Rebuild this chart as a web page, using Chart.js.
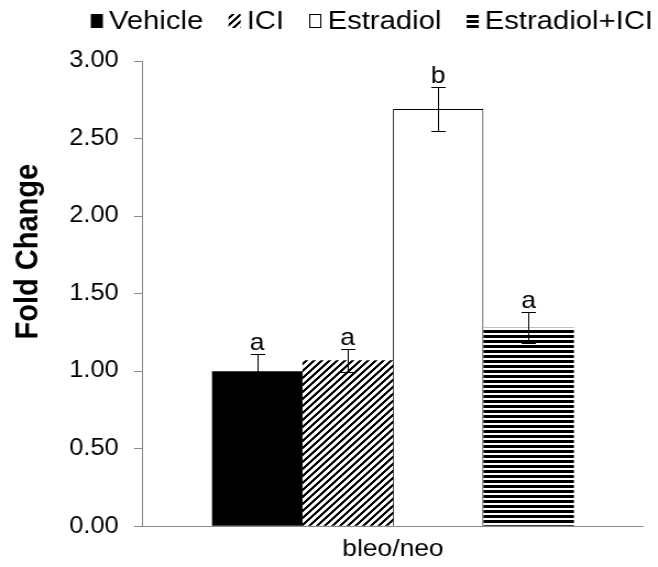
<!DOCTYPE html>
<html>
<head>
<meta charset="utf-8">
<script src="https://cdn.jsdelivr.net/npm/chart.js@4"></script>
<style>
  html, body { margin: 0; padding: 0; background: #fff; overflow: hidden; }
</style>
</head>
<body>
<canvas id="chart" width="598" height="567" style="display:block;width:658px;height:567px"></canvas>
<script>
// Fold change of bleo/neo expression per treatment group (mean ± SE)
const categories = ['bleo/neo'];
const seriesNames = ['Vehicle', 'ICI', 'Estradiol', 'Estradiol+ICI'];
const foldChange = [1.00, 1.07, 2.69, 1.28];
const foldChangeSE = [0.11, 0.075, 0.14, 0.10];
const groupLetters = ['a', 'a', 'b', 'a'];
const yTickValues = [0, 0.5, 1, 1.5, 2, 2.5, 3];

const FONT = "'Liberation Sans', Arial, sans-serif";
const AXIS_GREY = '#8a8a8a';

const canvas = document.getElementById('chart');
const ctx2d = canvas.getContext('2d');

// Build a repeating black/white pixel pattern
function tilePattern(w, h, isInk) {
  const c = document.createElement('canvas');
  c.width = w; c.height = h;
  const g = c.getContext('2d');
  const img = g.createImageData(w, h);
  for (let y = 0; y < h; y++) {
    for (let x = 0; x < w; x++) {
      const i = (y * w + x) * 4;
      const v = isInk(x, y) ? 0 : 255;
      img.data[i] = img.data[i + 1] = img.data[i + 2] = v;
      img.data[i + 3] = 255;
    }
  }
  g.putImageData(img, 0, 0);
  return ctx2d.createPattern(c, 'repeat');
}

const diagonalHatch = tilePattern(7, 7, (x, y) => (x + y) % 7 < 3);
const horizontalHatch = tilePattern(5, 5, (x, y) => y % 5 < 3);

const fills = ['#000000', diagonalHatch, '#ffffff', horizontalHatch];
const outlines = [0, 0, 1, 0];

// Error bars and significance letters above each bar
const errorBars = {
  id: 'errorBars',
  afterDatasetsDraw(chart) {
    const ctx = chart.ctx;
    const y = chart.scales.y;
    ctx.save();
    ctx.strokeStyle = '#000';
    ctx.lineWidth = 1;
    chart.data.datasets.forEach((ds, i) => {
      const bar = chart.getDatasetMeta(i).data[0];
      const v = ds.data[0];
      const e = foldChangeSE[i];
      const x = Math.round(bar.x) + 0.5;
      const yHi = Math.round(y.getPixelForValue(v + e)) + 0.5;
      const yLo = Math.round(y.getPixelForValue(v - e)) + 0.5;
      const cap = 6.5;
      ctx.beginPath();
      ctx.moveTo(x, yHi); ctx.lineTo(x, yLo);
      ctx.moveTo(x - cap, yHi); ctx.lineTo(x + cap, yHi);
      ctx.moveTo(x - cap, yLo); ctx.lineTo(x + cap, yLo);
      ctx.stroke();
      ctx.fillStyle = '#000';
      ctx.font = `24px ${FONT}`;
      ctx.textAlign = 'center';
      ctx.textBaseline = 'alphabetic';
      ctx.fillText(groupLetters[i], bar.x, yHi - 5);
    });
    ctx.restore();
  }
};

// Legend row with pattern swatches, spread across the top of the canvas
const swatchLegend = {
  id: 'swatchLegend',
  afterDraw(chart) {
    const ctx = chart.ctx;
    const left = 82.5, right = chart.width - 4.5;
    const boxW = 11, boxH = 14, boxTop = 14, baseline = 29, gapText = 5.5, gapItem = 23;
    const items = chart.data.datasets;
    ctx.save();
    ctx.font = `26px ${FONT}`;
    const textAt26 = items.reduce((s, ds) => s + ctx.measureText(ds.label).width, 0);
    const fixed = items.length * (boxW + gapText) + (items.length - 1) * gapItem;
    const size = 26 * (right - left - fixed) / textAt26;
    ctx.font = `${size.toFixed(2)}px ${FONT}`;
    ctx.textBaseline = 'alphabetic';
    ctx.textAlign = 'left';
    let x = left;
    items.forEach(ds => {
      ctx.fillStyle = ds.backgroundColor;
      ctx.fillRect(x, boxTop, boxW, boxH);
      if (ds.borderWidth) {
        ctx.strokeStyle = '#000';
        ctx.lineWidth = 1;
        ctx.strokeRect(Math.round(x) + 0.5, boxTop + 0.5, boxW - 1, boxH - 1);
      }
      x += boxW + gapText;
      ctx.fillStyle = '#000';
      ctx.fillText(ds.label, x, baseline);
      x += ctx.measureText(ds.label).width + gapItem;
    });
    ctx.restore();
  }
};

// Rotated y-axis title
const yTitle = {
  id: 'yTitle',
  afterDraw(chart) {
    const ctx = chart.ctx;
    const area = chart.chartArea;
    ctx.save();
    ctx.translate(26, area.top + (area.bottom - area.top) * 0.41);
    ctx.rotate(-Math.PI / 2);
    ctx.font = `bold 29px ${FONT}`;
    ctx.fillStyle = '#000';
    ctx.textAlign = 'center';
    ctx.textBaseline = 'middle';
    ctx.fillText('Fold Change', 0, 0);
    ctx.restore();
  }
};

new Chart(canvas, {
  type: 'bar',
  data: {
    labels: categories,
    datasets: seriesNames.map((name, i) => ({
      label: name,
      data: [foldChange[i]],
      backgroundColor: fills[i],
      borderColor: '#000',
      borderWidth: outlines[i],
      borderSkipped: 'bottom'
    }))
  },
  options: {
    responsive: false,
    animation: false,
    devicePixelRatio: 1,
    layout: { padding: { left: 49, right: 13.5, top: 61, bottom: -6 } },
    datasets: { bar: { categoryPercentage: 0.7233, barPercentage: 1 } },
    plugins: { legend: { display: false }, tooltip: { enabled: false } },
    scales: {
      x: {
        grid: { display: false, drawTicks: false },
        border: { display: true, color: AXIS_GREY, width: 1 },
        ticks: { color: '#000', font: { family: FONT, size: 24 }, padding: 9 }
      },
      y: {
        min: 0,
        max: 3,
        afterBuildTicks: s => { s.ticks = yTickValues.map(v => ({ value: v })); },
        grid: { drawOnChartArea: false, drawTicks: true, tickLength: 8, color: AXIS_GREY, tickColor: AXIS_GREY },
        border: { display: true, color: AXIS_GREY, width: 1 },
        ticks: { color: '#000', font: { family: FONT, size: 23 }, padding: 14, callback: v => Number(v).toFixed(2) }
      }
    }
  },
  plugins: [errorBars, swatchLegend, yTitle]
});
</script>
</body>
</html>
